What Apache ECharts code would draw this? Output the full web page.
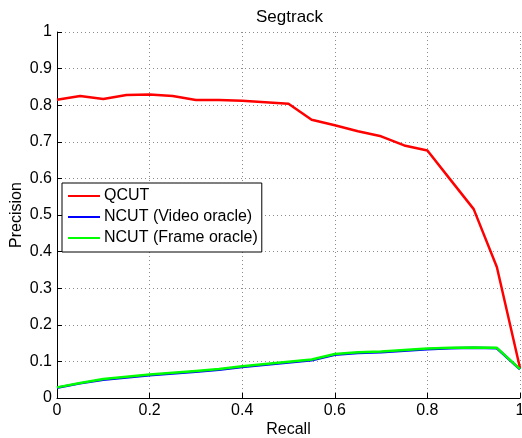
<!DOCTYPE html>
<html>
<head>
<meta charset="utf-8">
<script src="https://cdn.jsdelivr.net/npm/echarts@6/dist/echarts.min.js"></script>
<style>html,body{margin:0;padding:0;background:#fff}#c{width:522px;height:438px}</style>
</head>
<body>
<div id="c"></div>
<script>
const recall = [0,0.05,0.1,0.15,0.2,0.25,0.3,0.35,0.4,0.45,0.5,0.55,0.6,0.65,0.7,0.75,0.8,0.85,0.9,0.95,1];
const qcut = [0.815,0.825,0.817,0.828,0.829,0.825,0.814,0.814,0.812,0.808,0.804,0.760,0.745,0.729,0.715,0.690,0.676,0.596,0.516,0.358,0.082];
const ncutVideo = [0.028,0.040,0.050,0.056,0.062,0.067,0.072,0.077,0.085,0.091,0.097,0.103,0.118,0.123,0.125,0.129,0.133,0.136,0.137,0.136,0.078];
const ncutFrame = [0.029,0.041,0.052,0.058,0.064,0.069,0.074,0.079,0.087,0.093,0.099,0.105,0.120,0.125,0.127,0.131,0.135,0.137,0.138,0.137,0.079];
const seriesNames = ['QCUT','NCUT (Video oracle)','NCUT (Frame oracle)'];
const seriesColors = ['#ff0000','#0000ff','#00ff00'];

const font = 'Liberation Sans, Arial, Helvetica, sans-serif';
const pairs = arr => recall.map((r,i)=>[r,arr[i]]);
const chart = echarts.init(document.getElementById('c'), null, {renderer:'canvas'});
const gridStyle = {show:true, lineStyle:{color:'#8c8c8c', type:[1,3], width:1}};
const axisCommon = {
  min:0, max:1,
  axisLine:{show:true, onZero:false, lineStyle:{color:'#000', width:1}},
  axisTick:{show:true, inside:true, length:5, lineStyle:{color:'#000'}},
  axisLabel:{color:'#000', fontSize:16, fontFamily:font, margin:5},
  splitLine:gridStyle,
  nameMoveOverlap:false,
  nameTextStyle:{color:'#000', fontSize:16, fontFamily:font}
};
chart.setOption({
  animation:false,
  backgroundColor:'#fff',
  title:{text:'Segtrack', left:251, top:4,
    textStyle:{color:'#000', fontSize:17, fontWeight:'normal', fontFamily:font}},
  grid:{left:57, right:2, top:32, bottom:40, containLabel:false, outerBoundsMode:'none'},
  xAxis:Object.assign({type:'value', interval:0.2, name:'Recall', nameLocation:'middle', nameGap:24}, axisCommon),
  yAxis:Object.assign({type:'value', interval:0.1, name:'Precision', nameLocation:'middle', nameGap:32}, axisCommon),
  legend:{
    orient:'vertical', left:62, top:183, padding:[5,4,6,6], itemGap:5,
    backgroundColor:'#fff', borderColor:'#000', borderWidth:1,
    icon:'rect', itemWidth:32, itemHeight:2,
    textStyle:{color:'#000', fontSize:16, fontFamily:font, padding:[0,0,0,-1]},
    data:seriesNames
  },
  series:[qcut, ncutVideo, ncutFrame].map((d,i)=>({
    name:seriesNames[i], type:'line', data:pairs(d), showSymbol:false, symbol:'none',
    lineStyle:{color:seriesColors[i], width:2.5}, itemStyle:{color:seriesColors[i]}, z:2+i
  }))
});
</script>
</body>
</html>
